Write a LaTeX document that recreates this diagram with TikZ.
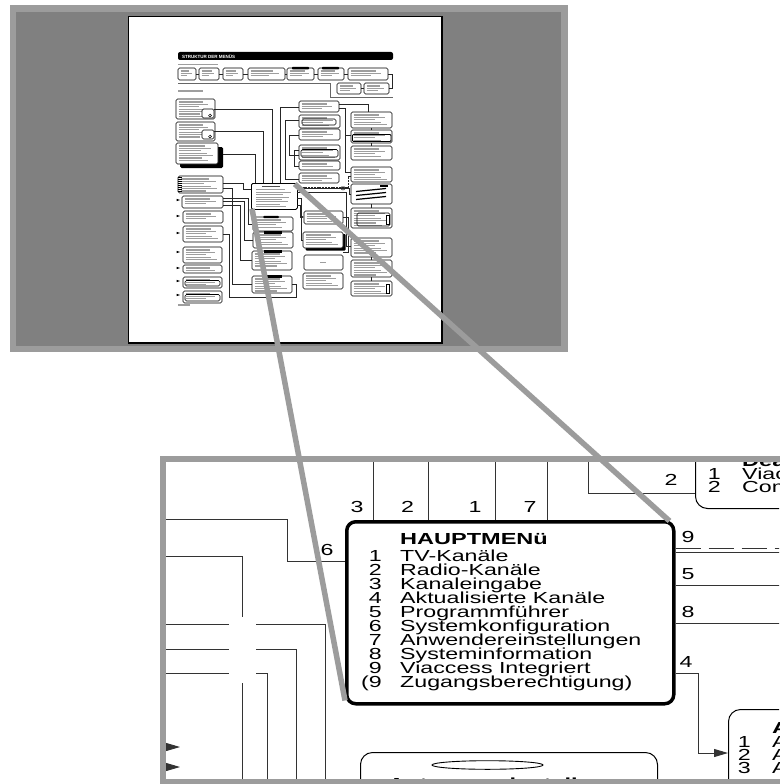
\documentclass[tikz,border=0pt]{standalone}
\usepackage{fontspec}
\setmainfont{Liberation Sans}
\newfontfamily\widefont[FakeStretch=1.45]{Liberation Sans}
\newfontfamily\widebold[FakeStretch=1.47]{Liberation Sans Bold}
\usetikzlibrary{arrows.meta,calc}
\definecolor{framegray}{HTML}{9C9C9C}
\definecolor{darkbg}{HTML}{808080}
\definecolor{txtgray}{HTML}{9E9E9E}
\definecolor{linegray}{HTML}{333333}
\newcommand\dgmfont{\widefont\fontsize{16}{14}\selectfont}
\newcommand\dgmbold{\widebold\fontsize{16}{14}\selectfont}
\newcommand\thbx[5][]{%
  \draw[thline,#1] (#2,#3) rectangle (#4,#5);
  \pgfmathtruncatemacro\thbN{((#5)-(#3)-2.5)/2.4}
  \ifnum\thbN>0
    \foreach \k in {1,...,\thbN}{%
      \pgfmathsetmacro\thbY{#3+0.6+\k*2.4}
      \pgfmathsetmacro\thbX{#4-2.5-mod(\k*7,11)*((#4)-(#2))/28}
      \draw[txtline] ({#2+2.5},\thbY) -- (\thbX,\thbY);
    }
  \fi
}
\begin{document}
\begin{tikzpicture}[x=1pt,y=-1pt,
  thline/.style={line width=0.55pt,black,rounded corners=1.5pt},
  txtline/.style={line width=1.1pt,txtgray},
  thconn/.style={line width=0.45pt,black!85},
  conn/.style={line width=0.9pt,linegray},
  tbox/.style={draw=black,line width=1pt,rounded corners=12pt,inner sep=0pt},
  mainbox/.style={draw=black,line width=3.5pt,rounded corners=9pt,inner sep=0pt},
  txtbase/.style={inner sep=0pt,text height=10pt,text depth=2.5pt},
  lab/.style={txtbase,font=\dgmfont,anchor=base},
  num/.style={txtbase,font=\dgmfont,anchor=base east},
  itm/.style={txtbase,font=\dgmfont,anchor=base west},
  ttl/.style={txtbase,font=\dgmbold,anchor=base west},
  zoomline/.style={line width=5.5pt,framegray},
  endtri/.style={-{Triangle[length=14pt,width=8pt]}}
]
\useasboundingbox (0,0) rectangle (779,784);
\fill[white] (0,0) rectangle (779,784);

% ---------------- top inset (page thumbnail) ----------------
\fill[framegray] (10,5) rectangle (568,352);
\fill[darkbg] (16,12) rectangle (561,346);
\fill[white] (128,16) rectangle (442,343);
\draw[line width=0.6pt] (128,16) rectangle (442,343);
\draw[line width=1.8pt] (128,343) -- (442,343) -- (442,16);

\fill[black,rounded corners=2pt] (178,52) rectangle (393,60);
\node[font=\bfseries\fontsize{4.5}{5}\selectfont,text=white,anchor=west,inner sep=0pt] (thtitle) at (182,56.2) {STRUKTUR DER MENÜS};
\draw[txtline] (178,64.5) -- (218,64.5);

\thbx{178}{68}{196}{80}
\thbx{199}{68}{219}{80}
\thbx{223}{68}{243}{80}
\thbx{248}{68}{285}{80}
\thbx{287}{68}{314}{80}
\thbx{318}{68}{344}{80}
\thbx{348}{68}{388}{80}
\fill[black,rounded corners=0.8pt] (292,66.8) rectangle (309,69.5);
\fill[black,rounded corners=0.8pt] (322,66.8) rectangle (339,69.5);
\foreach \a/\b in {196/199,219/223,243/248,285/287,314/318,344/348} \draw[thconn] (\a,74) -- (\b,74);
\draw[thconn] (388,74) -- (392,74) -- (392,88.5) -- (389,88.5);
\thbx{337}{83}{361}{94}
\thbx{364}{83}{389}{94}
\draw[thconn] (361,88.5) -- (364,88.5);
\draw[line width=0.7pt,black!60] (178,83) -- (330,83) -- (330,97) -- (393,97);
\draw[txtline] (178,91) -- (203,91);

% left upper boxes
\thbx{176}{99}{215}{119}
\draw[thline,fill=white] (202,109) rectangle (214,118);
\draw[line width=0.5pt] (210,115.5) circle (1.4);
\thbx{176}{122}{215}{141}
\draw[thline,fill=white] (202,130) rectangle (214,139);
\draw[line width=0.5pt] (210,136.5) circle (1.4);
\fill[black,rounded corners=1.5pt] (180,147) rectangle (223,168);
\thbx[fill=white]{176}{143}{218}{164}
\draw[thconn] (214,109) -- (272,109) -- (272,183);
\draw[thconn] (214,131) -- (263,131) -- (263,183);
\draw[thconn] (223,154) -- (255,154) -- (255,183);

% left lower column
\thbx{178}{176}{223}{193}
\foreach \yy in {177,179,...,191} \draw[line width=0.4pt] (178,\yy) -- (182,\yy);
\thbx{182}{196}{223}{208}
\thbx{183}{211}{223}{223}
\thbx{183}{226}{223}{242}
\thbx{183}{247}{222}{263}
\thbx{183}{265}{222}{273}
\thbx{183}{277}{222}{288}
\draw[thline] (185,280.5) rectangle (220,286);
\thbx{183}{291}{222}{303}
\draw[thline] (185,294.5) rectangle (220,301);
\foreach \yy in {200,216,233,252,268,281,295} \fill (176.5,{\yy-1.2}) -- (180,\yy) -- (176.5,{\yy+1.2}) -- cycle;
\draw[txtline] (178,305) -- (190,305);

% thumbnail main menu box
\node[draw,line width=0.8pt,rounded corners=1.5pt,minimum width=46pt,minimum height=26pt,anchor=north west,inner sep=0pt,fill=white] (thm) at (251,183) {};
\draw[line width=1.1pt,black!70] (262,186.5) -- (280,186.5);
\foreach \k in {1,...,8} \draw[txtline] (256,{187.5+\k*2.4}) -- ({292-mod(\k*5,9)*1.5},{187.5+\k*2.4});

% middle column under main
\thbx{253}{217}{293}{231}
\fill[black,rounded corners=1.2pt] (263,215.8) rectangle (279,218.2);
\thbx{253}{232}{293}{248}
\fill[black] (264,231) rectangle (282,233.5);
\thbx{252}{251}{292}{270}
\fill[black] (264,250) rectangle (282,252.5);
\thbx{252}{276}{292}{293}
\fill[black] (264,275) rectangle (282,277.5);

\draw[thconn] (223,183) -- (243,183) -- (243,189) -- (251,189);
\draw[thconn] (223,188) -- (232,188) -- (232,284) -- (252,284);
\draw[thconn] (223,198) -- (248,198) -- (248,224) -- (253,224);
\draw[thconn] (223,201) -- (244,201) -- (244,240) -- (253,240);
\draw[thconn] (223,205) -- (240,205) -- (240,260) -- (252,260);
\draw[thconn] (223,234) -- (229,234) -- (229,297) -- (296,297) -- (296,284) -- (292,284);

% centre-right upper column
\thbx{299}{101}{339}{112}
\thbx{299}{115}{340}{128}
\draw[thline] (302,119) rectangle (336,125);
\thbx{299}{129}{340}{140}
\thbx{299}{145}{340}{160}
\draw[thline] (301,149.5) rectangle (338,157);
\thbx{299}{161}{340}{170}
\thbx{299}{173}{339}{183}
\draw[thconn] (280,183) -- (280,107) -- (299,107);
\draw[thconn] (299,120) -- (285,120) -- (285,179) -- (299,179);
\draw[thconn] (299,135) -- (289,135) -- (289,155) -- (299,155);
\draw[thconn] (299,150) -- (294,150) -- (294,166) -- (299,166);
\draw[thline] (340,187) -- (346,187) -- (343,191) -- cycle;

% right column
\thbx{351}{112}{392}{128}
\thbx{351}{130}{392}{143}
\draw[line width=0.8pt,rounded corners=1pt] (352.5,134.5) rectangle (391,141.5);
\thbx{351}{146}{392}{160}
\thbx{351}{167}{392}{182}
\draw[thline] (351,184) rectangle (392,204);
\foreach \yy in {190,194,198} \draw[line width=1.2pt] (356,{\yy+1.5}) -- (386,{\yy-1.5});
\fill[black] (380,185) rectangle (388,186.5);
\thbx{351}{208}{392}{228}
\draw[thline] (357,213) rectangle (390,226);
\draw[line width=0.6pt] (386.5,215) rectangle (389,224);
\thbx{351}{238}{392}{257}
\thbx{351}{260}{392}{277}
\thbx{351}{281}{392}{296}
\draw[line width=0.6pt] (386.5,284) rectangle (389,293);
\draw[thconn] (339,104) -- (368,104) -- (368,112);
\draw[thconn] (339,108) -- (345,108) -- (345,135) -- (351,135);
\draw[thconn] (345,135) -- (345,172) -- (351,172);
\foreach \ya/\yb in {128/130,143/146,204/208,257/260,277/281} \draw[thconn] (371,\ya) -- (371,\yb);

% centre-right lower column
\thbx{304}{211}{343}{224}
\fill[black,rounded corners=1pt] (305.5,234) rectangle (345.5,250.5);
\thbx[fill=white]{303}{232}{343}{248}
\draw[thline] (304,255) rectangle (343,270);
\draw[txtline] (320,262.5) -- (326,262.5);
\thbx{303}{273}{343}{289}
\draw[thconn,dash pattern=on 2pt off 0.8pt] (297,187) -- (348,187) -- (348,176) -- (351,176);
\draw[thconn] (297,188.5) -- (349.5,188.5) -- (349.5,194) -- (351,194);
\draw[thconn] (297,192) -- (346.5,192) -- (346.5,246) -- (351,246);
\draw[thconn] (297,198) -- (301.5,198) -- (301.5,240) -- (303,240);
\draw[thconn,-{Triangle[length=2pt,width=1.6pt]}] (297,205) -- (300,205) -- (300,217) -- (304,217);
\draw[thconn] (343,217) -- (348,217) -- (348,252) -- (343,252);

% ---------------- lower inset (magnified detail) ----------------
\begin{scope}
\clip (166,462) rectangle (779,778.5);
\node[mainbox,anchor=north west,minimum width=327pt,minimum height=182pt] (main) at (345,520) {};
\node[ttl] (mtitle) at (400,544) {HAUPTMENü};
\node[num] (n1) at (382,561) {1};  \node[itm] (i1) at (400,561) {TV-Kanäle};
\node[num] (n2) at (382,575) {2};  \node[itm] (i2) at (400,575) {Radio-Kanäle};
\node[num] (n3) at (382,589) {3};  \node[itm] (i3) at (400,589) {Kanaleingabe};
\node[num] (n4) at (382,603) {4};  \node[itm] (i4) at (400,603) {Aktualisierte Kanäle};
\node[num] (n5) at (382,617) {5};  \node[itm] (i5) at (400,617) {Programmführer};
\node[num] (n6) at (382,631) {6};  \node[itm] (i6) at (400,631) {Systemkonfiguration};
\node[num] (n7) at (382,645) {7};  \node[itm] (i7) at (400,645) {Anwendereinstellungen};
\node[num] (n8) at (382,659) {8};  \node[itm] (i8) at (400,659) {Systeminformation};
\node[num] (n9) at (382,673) {9};  \node[itm] (i9) at (400,673) {Viaccess Integriert};
\node[num] (n10) at (382,687) {(9}; \node[itm] (i10) at (400,687) {Zugangsberechtigung)};

\node[tbox,anchor=south west,minimum width=150pt,minimum height=80pt] (dea) at (695,509) {};
\node[ttl] (deat) at (742,466) {Dea};
\node[num] (dn1) at (721,479) {1}; \node[itm] (di1) at (742,479) {Viac};
\node[num] (dn2) at (721,492) {2}; \node[itm] (di2) at (742,492) {Com};

\node[tbox,anchor=north west,minimum width=120pt,minimum height=100pt] (akt) at (728,709) {};
\node[ttl] (aktt) at (772,733) {A};
\node[num] (an1) at (751,747) {1}; \node[itm] (ai1) at (772,747) {A};
\node[num] (an2) at (751,760) {2}; \node[itm] (ai2) at (772,760) {A};
\node[num] (an3) at (751,773) {3}; \node[itm] (ai3) at (772,773) {A};

\node[tbox,anchor=north west,minimum width=297pt,minimum height=60pt] (ant) at (360,752) {};
\draw[line width=0.9pt] (487.5,765) ellipse (55.5 and 4.3);
\node[ttl] (antt) at (388,789) {Antenneneinstellungen};

% top connectors
\coordinate (t3) at (373,462); \coordinate (t2) at (428,462);
\coordinate (t1) at (495,462); \coordinate (t7) at (547,462);
\foreach \c in {t3,t2,t1,t7} \draw[conn] (\c) -- (\c |- main.north);
\node[lab] (l3) at (357,512) {3};
\node[lab] (l2) at (407.5,512) {2};
\node[lab] (l1) at (475,512) {1};
\node[lab] (l7) at (530,512) {7};

% left connectors
\coordinate (l6a) at (166,519); \coordinate (l6b) at (287,561);
\draw[conn] (l6a) -| (l6b) -- (l6b -| main.west);
\node[lab] (lab6) at (327,555) {6};
\coordinate (la1) at (166,556); \coordinate (la2) at (242,617);
\coordinate (la3) at (242,683); \coordinate (la4) at (242,790);
\draw[conn] (la1) -| (la2);
\draw[conn] (la3) -- (la4);
\coordinate (lb1) at (166,624); \coordinate (lb2) at (229,624);
\coordinate (lb3) at (256,624); \coordinate (lb4) at (325,790);
\draw[conn] (lb1) -- (lb2); \draw[conn] (lb3) -| (lb4);
\coordinate (lc1) at (166,649); \coordinate (lc2) at (229,649);
\coordinate (lc3) at (256,649); \coordinate (lc4) at (296,790);
\draw[conn] (lc1) -- (lc2); \draw[conn] (lc3) -| (lc4);
\coordinate (ld1) at (166,673); \coordinate (ld2) at (229,673);
\coordinate (ld3) at (256,673); \coordinate (ld4) at (267,790);
\draw[conn] (ld1) -- (ld2); \draw[conn] (ld3) -| (ld4);
\coordinate (le1) at (150,747); \coordinate (le2) at (180,747);
\coordinate (lf1) at (150,767); \coordinate (lf2) at (180,767);
\draw[conn,endtri] (le1) -- (le2);
\draw[conn,endtri] (lf1) -- (lf2);

% top right connector "2"
\coordinate (r2a) at (588,462); \coordinate (r2b) at (588,493);
\draw[conn] (r2a) -- (r2b) -- (r2b -| dea.west);
\node[lab] (lab2r) at (671,485) {2};

% right connectors
\coordinate (r9) at (790,548); \coordinate (rs) at (790,552);
\coordinate (r5) at (790,585); \coordinate (r8) at (790,623);
\draw[conn,dash pattern=on 25pt off 8pt] (main.east |- r9) -- (r9);
\draw[conn] (main.east |- rs) -- (rs);
\draw[conn] (main.east |- r5) -- (r5);
\draw[conn] (main.east |- r8) -- (r8);
\node[lab] (lab9) at (688,542) {9};
\node[lab] (lab5) at (688,579) {5};
\node[lab] (lab8) at (688,617) {8};
\node[lab] (lab4) at (686,667) {4};
\coordinate (c4a) at (698,673); \coordinate (c4b) at (698,753);
\draw[conn,endtri] (main.east |- c4a) -- (c4a) -- (c4b) -- (c4b -| akt.west);
\end{scope}

\draw[framegray,line width=6pt] (163,459) rectangle (800,781.5);

% zoom lines
\draw[zoomline] ($(thm.south west)+(1,-1)$) -- ($(main.south west)+(0,-5)$);
\draw[zoomline] ($(thm.north east)+(-3,1)$) -- ($(main.north east)+(-6,1)$);
\end{tikzpicture}
\end{document}
